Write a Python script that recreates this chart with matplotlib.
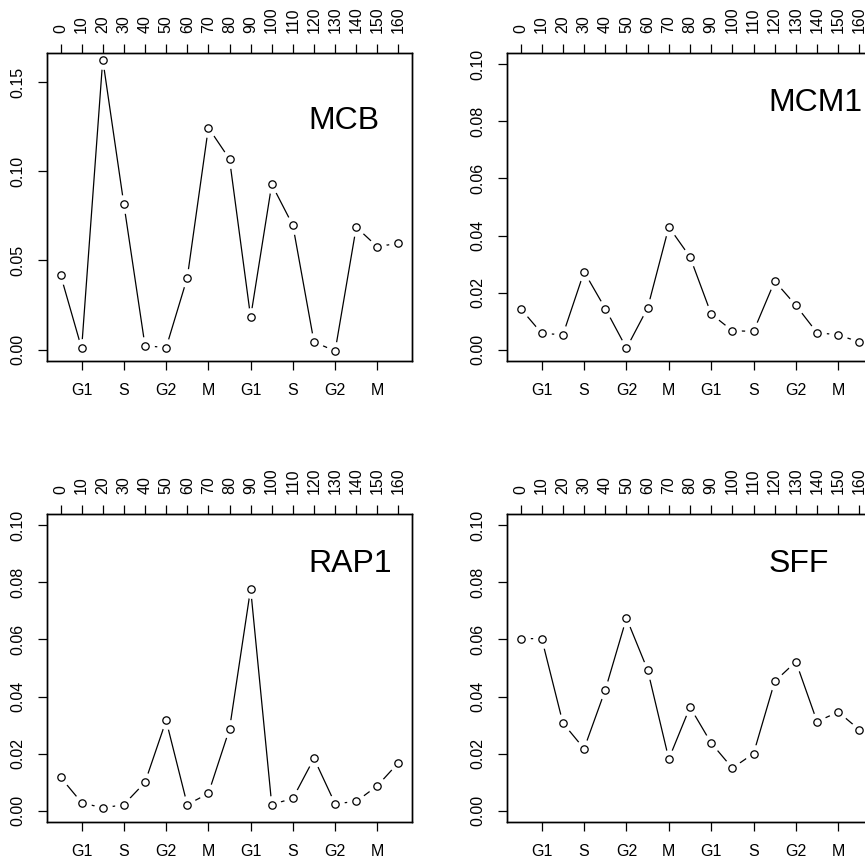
import numpy as np
import matplotlib
matplotlib.use('Agg')
import matplotlib.pyplot as plt

plt.rc('font', family=['Liberation Sans', 'DejaVu Sans'], size=11.5)

# Datos: minutos de muestreo y fase del ciclo celular
minutos = np.arange(0, 161, 10)
pos_fases = np.arange(10, 151, 20)
fases = ['G1', 'S', 'G2', 'M', 'G1', 'S', 'G2', 'M']

mcb = [0.0420, 0.0007, 0.1627, 0.0815, 0.0022, 0.0011, 0.0403, 0.1245, 0.1069,
       0.0182, 0.0927, 0.0697, 0.0043, -0.0008, 0.0687, 0.0577, 0.0597]
mcm1 = [0.0144, 0.0057, 0.0052, 0.0273, 0.0144, 0.0005, 0.0146, 0.0430, 0.0325,
        0.0125, 0.0066, 0.0064, 0.0240, 0.0155, 0.0059, 0.0052, 0.0026]
rap1 = [0.0117, 0.0028, 0.0009, 0.0021, 0.0099, 0.0316, 0.0021, 0.0060, 0.0286,
        0.0778, 0.0021, 0.0043, 0.0183, 0.0024, 0.0032, 0.0087, 0.0168]
sff = [0.0603, 0.0603, 0.0307, 0.0217, 0.0423, 0.0675, 0.0493, 0.0181, 0.0363,
       0.0237, 0.0149, 0.0200, 0.0453, 0.0522, 0.0312, 0.0346, 0.0283]

W, H = 865, 863
fs = 11.5


def caja(x0, y0, x1, y1):
    # rectangulo en pixeles (origen arriba a la izquierda) -> fraccion de figura
    return [x0 / W, 1 - y1 / H, (x1 - x0) / W, (y1 - y0) / H]


def rango(lo, hi):
    d = 0.04 * (hi - lo)
    return lo - d, hi + d


paneles = [
    ('MCB', mcb, (0, 0.16), np.arange(0, 0.151, 0.05), caja(47, 53, 412, 361), 0.78),
    ('MCM1', mcm1, (0, 0.10), np.arange(0, 0.101, 0.02), caja(507, 53, 873, 361), 0.838),
    ('RAP1', rap1, (0, 0.10), np.arange(0, 0.101, 0.02), caja(47, 514, 412, 822), 0.838),
    ('SFF', sff, (0, 0.10), np.arange(0, 0.101, 0.02), caja(507, 514, 873, 822), 0.838),
]

fig = plt.figure(figsize=(W / 100, H / 100), dpi=100)

for nombre, datos, ylim, yticks, rect, ytexto in paneles:
    ax = fig.add_axes(rect)
    ax.plot(minutos, datos, color='k', lw=0.9, zorder=2)
    ax.plot(minutos, datos, 'o', ms=13.5, mfc='white', mec='none', zorder=2.1)
    ax.plot(minutos, datos, 'o', ms=5.3, mfc='white', mec='k', mew=0.9, zorder=2.2)

    ax.set_xlim(rango(0, 160))
    ax.set_ylim(rango(*ylim))
    ax.set_xticks(pos_fases)
    ax.set_xticklabels(fases, fontsize=fs)
    ax.set_yticks(yticks)
    ax.set_yticklabels([f'{v:.2f}' for v in yticks], rotation=90, va='center',
                       fontsize=fs)
    ax.tick_params(axis='x', direction='out', length=6.5, width=0.9, pad=9.5)
    ax.tick_params(axis='y', direction='out', length=6.5, width=0.9, pad=9)
    for s in ax.spines.values():
        s.set_linewidth(1.0)

    ax2 = ax.twiny()
    ax2.set_xlim(ax.get_xlim())
    ax2.set_xticks(minutos)
    ax2.set_xticklabels([str(m) for m in minutos], rotation=90, fontsize=fs)
    ax2.tick_params(axis='x', direction='out', length=6.5, width=0.9, pad=8)
    for s in ax2.spines.values():
        s.set_linewidth(1.0)

    ax.text(0.715, ytexto, nombre, transform=ax.transAxes, fontsize=23,
            ha='left', va='center')

fig.savefig('out.png', dpi=100)
